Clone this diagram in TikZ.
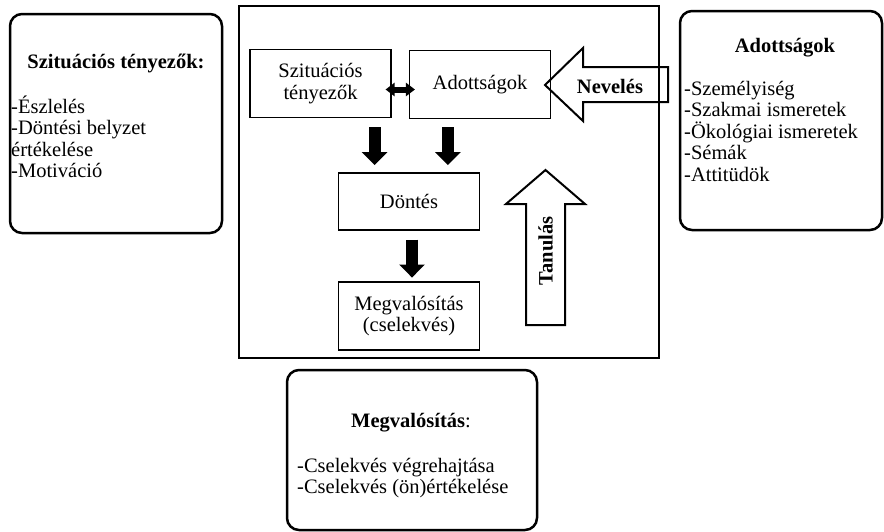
\documentclass[tikz,border=0pt]{standalone}
\usepackage{fontspec}
\setmainfont{Liberation Serif}
\usetikzlibrary{arrows.meta,calc}

\begin{document}
\begin{tikzpicture}[x=1pt,y=-1pt,
    every node/.style={font=\fontsize{20.5}{21.5}\selectfont, inner sep=0pt},
    heading/.style={font=\fontsize{20.5}{21.5}\selectfont\bfseries, anchor=base},
    stage/.style={draw, line width=1.1pt, minimum width=141pt, minimum height=68pt, align=center},
    infobox/.style={line width=2.5pt, rounded corners=12pt},
    itemlist/.style={anchor=base west, align=left},
    down/.style={line width=12pt, -{Triangle[width=25pt,length=13pt]}},
    twoway/.style={line width=6pt, {Triangle[width=13pt,length=9pt]}-{Triangle[width=13pt,length=9pt]}},
    hollow/.style={line width=2pt, line join=miter}]
    \useasboundingbox (0,0) rectangle (884,531);

    % frame round the model
    \draw[line width=1.1pt] (239,6) rectangle (659,358);

    \node[stage] (szit) at (320.5,83.5) {Szituációs\\tényezők};
    \node[stage] (adott) at (480,84.5) {Adottságok};
    \node[stage, minimum height=57pt] (dontes) at (409,201.5) {Döntés};
    \node[stage] (megval) at (409,316) {Megvalósítás\\(cselekvés)};

    \draw[twoway] ($(szit.east)+(-6,6)$) -- ($(adott.west)+(6,5)$);
    \draw[down] ($(szit.south east)+(-17,9)$) -- ++(0,38);
    \draw[down] ($(adott.south west)+(39,8)$) -- ++(0,38);
    \draw[down] ($(dontes.south)+(3,9)$) -- ++(0,38);

    % hollow arrows: Neveles from the right, Tanulas upwards
    \coordinate (nevtip) at (545,85);
    \draw[hollow] (nevtip) -- ++(38,-37) -- ++(0,19) -- ++(85,0) -- ++(0,35)
        -- ++(-85,0) -- ++(0,19) -- cycle;
    \node[heading, anchor=center] (nevel) at (610,86) {Nevelés};

    \coordinate (tantip) at (545.5,170);
    \draw[hollow] (tantip) -- ++(39.5,34) -- ++(-20,0) -- ++(0,121) -- ++(-39,0)
        -- ++(0,-121) -- ++(-20,0) -- cycle;
    \node[heading, anchor=center, rotate=90] (tanul) at (545.5,251) {Tanulás};

    % side boxes (list nodes sit on the baseline of their last line)
    \draw[infobox] (10,14) rectangle (222,233);
    \node[heading] (szittitle) at (116,68) {Szituációs tényezők:};
    \node[itemlist] (szitlist) at (11,177.5) {-Észlelés\\-Döntési belyzet\\értékelése\\-Motiváció};

    \draw[infobox] (680,11) rectangle (882,230);
    \node[heading] (adotttitle) at (785,52) {Adottságok};
    \node[itemlist] (adottlist) at (684,181) {-Személyiség\\-Szakmai ismeretek\\-Ökológiai ismeretek\\-Sémák\\-Attitüdök};

    \draw[infobox] (287,370) rectangle (537,530);
    \node[anchor=base] (megvaltitle) at (411,427) {\textbf{Megvalósítás}:};
    \node[itemlist] (megvallist) at (297,493.5) {-Cselekvés végrehajtása\\-Cselekvés (ön)értékelése};
\end{tikzpicture}
\end{document}
